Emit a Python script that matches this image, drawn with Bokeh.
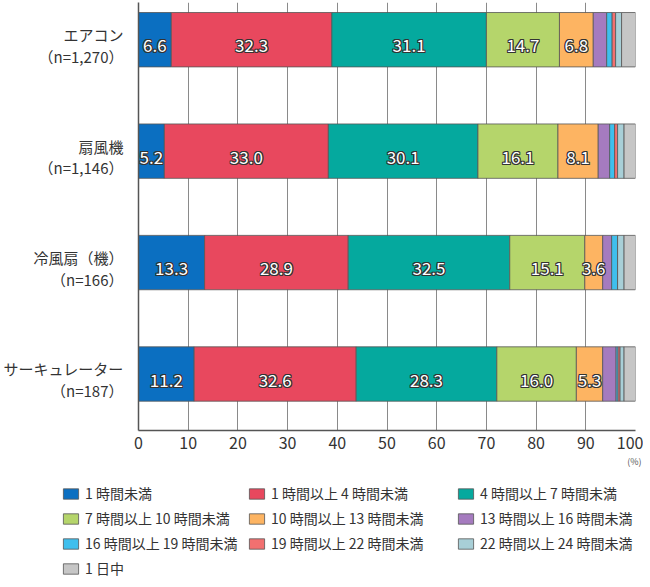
from bokeh.plotting import figure
from bokeh.models import ColumnDataSource, FixedTicker, Legend, LegendItem, Title
from bokeh.layouts import column
from bokeh.core.properties import value
from bokeh.embed import file_html
from bokeh.resources import INLINE

# ---------------- data ----------------
categories = ["エアコン", "扇風機", "冷風扇（機）", "サーキュレーター"]
sample_sizes = ["（n=1,270）", "（n=1,146）", "（n=166）", "（n=187）"]
series_names = [
    "1 時間未満", "1 時間以上 4 時間未満", "4 時間以上 7 時間未満",
    "7 時間以上 10 時間未満", "10 時間以上 13 時間未満", "13 時間以上 16 時間未満",
    "16 時間以上 19 時間未満", "19 時間以上 22 時間未満", "22 時間以上 24 時間未満",
    "1 日中",
]
s_under1 = [6.6, 5.2, 13.3, 11.2]
s_1to4 = [32.3, 33.0, 28.9, 32.6]
s_4to7 = [31.1, 30.1, 32.5, 28.3]
s_7to10 = [14.7, 16.1, 15.1, 16.0]
s_10to13 = [6.8, 8.1, 3.6, 5.3]
s_13to16 = [2.7, 2.3, 1.8, 2.7]
s_16to19 = [1.1, 1.0, 1.2, 0.4]
s_19to22 = [0.7, 0.6, 0.0, 0.4]
s_22to24 = [1.2, 1.3, 1.3, 0.8]
s_allday = [2.8, 2.3, 2.3, 2.3]
x_ticks = [0, 10, 20, 30, 40, 50, 60, 70, 80, 90, 100]

colors = ["#0b6fc1", "#e8485e", "#05a99e", "#b5d56b", "#fdb462",
          "#a57bbf", "#3fbfed", "#f27070", "#a8cfd7", "#c6c6c6"]

series = [s_under1, s_1to4, s_4to7, s_7to10, s_10to13,
          s_13to16, s_16to19, s_19to22, s_22to24, s_allday]
keys = ["s%d" % i for i in range(len(series))]
ypos = [3, 2, 1, 0]

data = {"y": ypos}
for k, s in zip(keys, series):
    data[k] = s
src = ColumnDataSource(data)

FONT = "Noto Sans CJK JP"
TXT = "#333333"

# ---------------- main chart ----------------
p = figure(frame_width=497, frame_height=428, output_backend="svg", toolbar_location=None,
           x_range=(0, 100), y_range=(-0.507, 3.334),
           min_border_left=129, min_border_right=8, min_border_top=2,
           min_border_bottom=48)
p.frame_align = False
p.outline_line_color = None
p.background_fill_color = "white"

renderers = p.hbar_stack(keys, y="y", height=0.488, color=colors,
                         line_color="#555555", line_width=0.8, source=src)

# value labels (white text with a dark outline)
lx, ly, lt = [], [], []
for ci in range(len(categories)):
    cum = 0.0
    for si in range(5):
        v = series[si][ci]
        lx.append(cum + v / 2.0)
        ly.append(ypos[ci])
        lt.append("%.1f" % v)
        cum += v

lsrc = ColumnDataSource(dict(x=lx, y=ly, text=lt))
for dx, dy in [(-1, 0), (1, 0), (0, -1), (0, 1), (-1, -1), (1, 1), (-1, 1), (1, -1)]:
    p.text("x", "y", text="text", source=lsrc, x_offset=dx, y_offset=6 + dy,
           text_font=value(FONT), text_font_size="17px", text_color=TXT,
           text_align="center", text_baseline="middle")
p.text("x", "y", text="text", source=lsrc, y_offset=6,
       text_font=value(FONT), text_font_size="17px", text_color="white",
       text_align="center", text_baseline="middle")

# x axis
p.xaxis.ticker = FixedTicker(ticks=x_ticks)
p.xaxis.major_tick_line_color = None
p.xaxis.minor_tick_line_color = None
p.xaxis.axis_line_color = "#555555"
p.xaxis.axis_line_width = 1.5
p.xaxis.major_label_text_font = FONT
p.xaxis.major_label_text_font_size = "16px"
p.xaxis.major_label_text_color = TXT
p.xaxis.major_label_standoff = 0

# y axis: two lines per category as two ticks
up, down = 0.046, 0.148
yticks, overrides = [], {}
for y, c, n in zip(ypos, categories, sample_sizes):
    t1 = round(y + up, 4)
    t2 = round(y - down, 4)
    yticks += [t1, t2]
    overrides[t1] = c
    overrides[t2] = n
p.yaxis.ticker = FixedTicker(ticks=yticks)
p.yaxis.major_label_overrides = overrides
p.yaxis.major_tick_line_color = None
p.yaxis.minor_tick_line_color = None
p.yaxis.axis_line_color = "#555555"
p.yaxis.axis_line_width = 1.5
p.yaxis.major_label_text_font = FONT
p.yaxis.major_label_text_font_size = "15px"
p.yaxis.major_label_text_color = TXT
p.yaxis.major_label_standoff = 9

p.xgrid.ticker = FixedTicker(ticks=x_ticks)
p.xgrid.grid_line_color = "#8a8a8a"
p.xgrid.grid_line_width = 1
p.ygrid.grid_line_color = None

unit = Title(text="(%)", align="right", text_font=FONT, text_font_size="9px",
             text_color="#555555", text_font_style="normal", standoff=2, offset=-6)
p.add_layout(unit, "below")

# ---------------- legend panel ----------------
LP_H = 108
lp = figure(width=634, height=LP_H, output_backend="svg", toolbar_location=None,
            x_range=(1000, 1001), y_range=(1000, 1001),
            x_axis_location=None, y_axis_location=None,
            min_border_left=0, min_border_right=0, min_border_top=0, min_border_bottom=0)
lp.frame_align = False
lp.outline_line_color = None
lp.xgrid.visible = False
lp.ygrid.visible = False
leg_renderers = lp.hbar_stack(keys, y="y", height=0.488, color=colors,
                              line_color="#555555", line_width=0.8, source=src)

col_members = [[0, 3, 6, 9], [1, 4, 7], [2, 5, 8]]
col_x = [61, 247, 456]
SP = 5
LH = 20
TOP = 5
for members, cx in zip(col_members, col_x):
    items = [LegendItem(label=series_names[i], renderers=[leg_renderers[i]]) for i in members]
    h = len(members) * LH + (len(members) - 1) * SP
    lg = Legend(items=items, location=(cx, LP_H - TOP - h), orientation="vertical",
                padding=0, margin=0, spacing=SP, label_height=LH,
                glyph_width=19, glyph_height=13, label_standoff=5,
                label_text_font=FONT, label_text_font_size="14px",
                label_text_color=TXT, border_line_color=None,
                background_fill_alpha=0)
    lp.add_layout(lg, "center")

layout = column(p, lp, spacing=0)
open("out.html", "w").write(file_html(layout, INLINE))
